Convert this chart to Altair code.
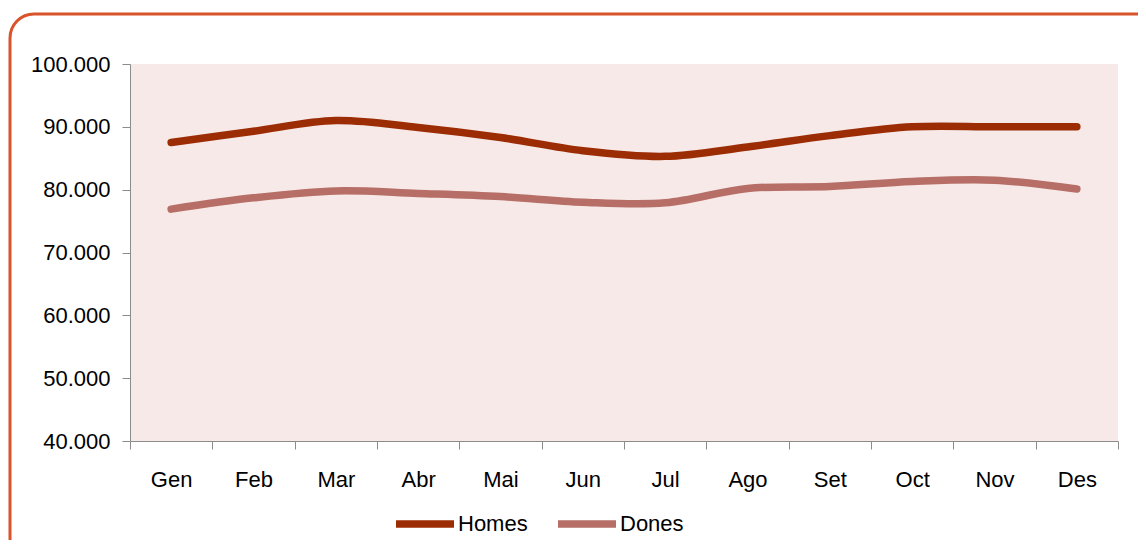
import altair as alt
import pandas as pd

months = ["Gen", "Feb", "Mar", "Abr", "Mai", "Jun", "Jul", "Ago", "Set", "Oct", "Nov", "Des"]
homes = [87500, 89300, 91000, 89900, 88300, 86200, 85300, 86800, 88600, 90000, 90000, 90000]
dones = [76900, 78700, 79800, 79400, 78900, 78000, 77900, 80200, 80500, 81300, 81500, 80100]
series = ["Homes", "Dones"]
colors = ["#9c2c03", "#b66e66"]
y_ticks = [40000, 50000, 60000, 70000, 80000, 90000, 100000]

rows = []
for name, vals in zip(series, [homes, dones]):
    for i, (m, v) in enumerate(zip(months, vals)):
        rows.append({"idx": i, "mes": m, "serie": name, "valor": v})
df = pd.DataFrame(rows)

FONT = "Liberation Sans"
FS = 22
PW, PH = 988, 377

month_arr = "[" + ",".join("'" + m + "'" for m in months) + "]"
x_vals = [i - 0.5 for i in range(len(months) + 1)]

lines = alt.Chart(df).mark_line(
    interpolate="catmull-rom", strokeWidth=7.5, strokeCap="round"
).encode(
    x=alt.X(
        "idx:Q",
        scale=alt.Scale(domain=[-0.5, len(months) - 0.5], nice=False, zero=False),
        axis=alt.Axis(
            title=None, values=x_vals, grid=False,
            labelExpr=f"datum.value > {len(months) - 1} ? '' : {month_arr}[datum.value + 0.5]",
            labelOffset=PW / len(months) / 2, tickSize=8, labelPadding=20,
            labelFont=FONT, labelFontSize=FS, labelColor="#000000",
            domainColor="#8c8c8c", tickColor="#8c8c8c", labelFlush=False,
        ),
    ),
    y=alt.Y(
        "valor:Q",
        scale=alt.Scale(domain=[40000, 100000], nice=False, zero=False),
        axis=alt.Axis(
            title=None, values=y_ticks, grid=False, tickSize=8, labelPadding=12,
            labelExpr="replace(format(datum.value, ','), ',', '.')",
            labelFont=FONT, labelFontSize=FS, labelColor="#000000",
            domainColor="#8c8c8c", tickColor="#8c8c8c",
        ),
    ),
    color=alt.Color(
        "serie:N",
        scale=alt.Scale(domain=series, range=colors),
        sort=series,
        legend=alt.Legend(
            title=None, orient="none", direction="horizontal",
            legendX=262, legendY=427,
            symbolType="stroke", symbolSize=3364, symbolStrokeWidth=7.5,
            labelFont=FONT, labelFontSize=FS, labelColor="#000000",
            labelOffset=0, columnPadding=15, padding=0,
        ),
    ),
)

border = alt.Chart(alt.Data(values=[{"b": 1}])).mark_rect(
    fill=None, stroke="#d9532b", strokeWidth=3, cornerRadius=24, clip=False
).encode(
    x=alt.value(-120), x2=alt.value(1030),
    y=alt.value(-50), y2=alt.value(500),
)

chart = alt.layer(border, lines).properties(
    width=PW, height=PH,
    autosize=alt.AutoSizeParams(type="none"),
    padding={"left": 122, "top": 56, "right": 20, "bottom": 99},
).configure_view(
    fill="#f6e9e8", stroke=None
)

chart.save("out.html", embed_options={"renderer": "svg", "actions": False})
